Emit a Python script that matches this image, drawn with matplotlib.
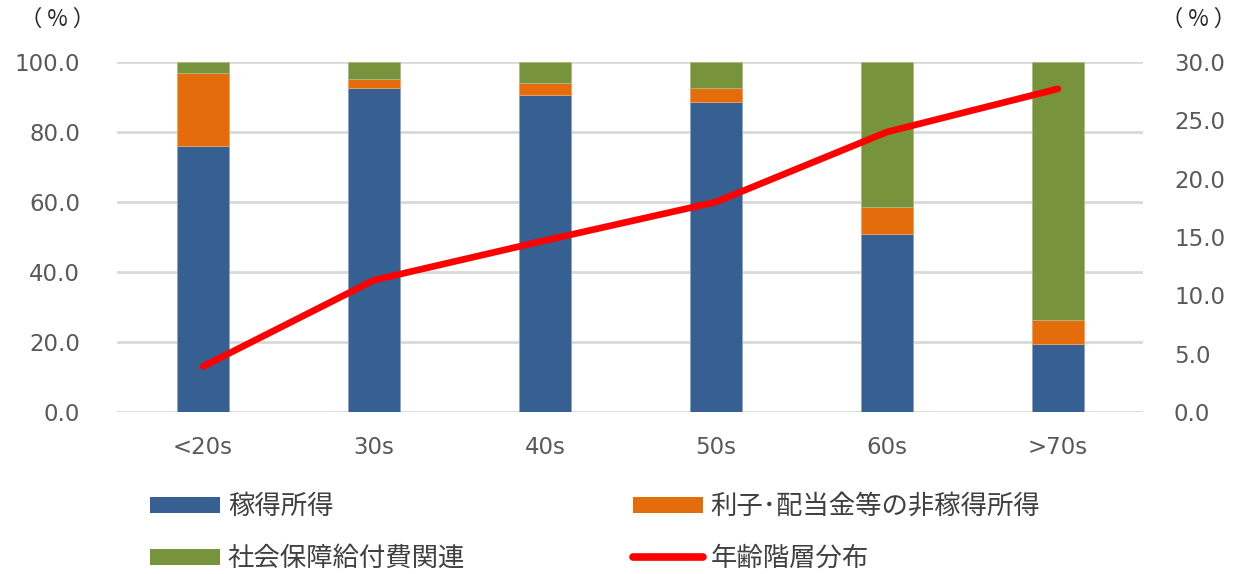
import matplotlib
matplotlib.use("Agg")
import matplotlib.pyplot as plt
import numpy as np
from matplotlib.patches import Patch
from matplotlib.lines import Line2D

plt.rcParams['font.family'] = ['DejaVu Sans', 'Noto Sans CJK JP']

categories = ["<20s", "30s", "40s", "50s", "60s", ">70s"]
earned_income = [76.1, 92.5, 90.7, 88.7, 50.9, 19.3]
non_earned_income = [20.8, 2.6, 3.2, 3.8, 7.6, 7.1]
social_security = [3.1, 4.9, 6.1, 7.5, 41.5, 73.6]
age_distribution = [3.9, 11.3, 14.7, 18.0, 24.0, 27.7]

left_ticks = [0, 20, 40, 60, 80, 100]
right_ticks = [0, 5, 10, 15, 20, 25, 30]

labels = ["稼得所得", "利子･配当金等の非稼得所得", "社会保障給付費関連", "年齢階層分布"]
colors = ["#366092", "#E46C0A", "#77933C", "#FF0000"]
tick_color = "#595959"

fig = plt.figure(figsize=(12.42, 5.74), dpi=100)
ax = fig.add_axes([0.0946, 0.2822, 0.826, 0.6098])
x = np.arange(len(categories))
w = 0.30

b1 = np.array(earned_income)
b2 = np.array(non_earned_income)
b3 = np.array(social_security)
ax.bar(x, b1, w, color=colors[0], edgecolor="#8DA3C0", linewidth=0.6, zorder=2)
ax.bar(x, b2, w, bottom=b1, color=colors[1], edgecolor="#F0A060", linewidth=0.6, zorder=2)
ax.bar(x, b3, w, bottom=b1 + b2, color=colors[2], edgecolor="#A8BC80", linewidth=0.6, zorder=2)

ax.set_xlim(-0.5, len(categories) - 0.5)
ax.set_ylim(0, 100)
ax.set_yticks(left_ticks)
ax.set_yticklabels([f"{v:.1f}" for v in left_ticks])
ax.set_xticks(x)
ax.set_xticklabels(categories)
ax.yaxis.grid(True, color="#D9D9D9", linewidth=2.0, zorder=0)
ax.set_axisbelow(True)
for s in ax.spines.values():
    s.set_visible(False)
ax.tick_params(axis="both", length=0, labelsize=16.5, colors=tick_color)
ax.tick_params(axis="y", pad=27)
ax.tick_params(axis="x", pad=17)

ax2 = ax.twinx()
ax2.plot(x, age_distribution, color=colors[3], linewidth=4.8, solid_capstyle="round",
         solid_joinstyle="round", zorder=5)
ax2.set_ylim(0, 30)
ax2.set_yticks(right_ticks)
ax2.set_yticklabels([f"{v:.1f}" for v in right_ticks])
for s in ax2.spines.values():
    s.set_visible(False)
ax2.tick_params(axis="y", length=0, labelsize=16.5, colors=tick_color, pad=22)

pct_font = ["Noto Sans CJK JP", "DejaVu Sans"]
fig.text(0.0465, 0.966, "（ % ）", fontsize=16, color="#262626", ha="center", va="center",
         family=pct_font)
fig.text(0.965, 0.966, "（ % ）", fontsize=16, color="#262626", ha="center", va="center",
         family=pct_font)

handles = [
    Patch(facecolor=colors[0], edgecolor="none"),
    Patch(facecolor=colors[2], edgecolor="none"),
    Patch(facecolor=colors[1], edgecolor="none"),
    Line2D([0], [0], color=colors[3], linewidth=5.5, solid_capstyle="round"),
]
hl = [labels[0], labels[2], labels[1], labels[3]]
leg = fig.legend(handles, hl, ncol=2, loc="upper left", bbox_to_anchor=(150 / 1242, 1 - 493 / 574),
                 frameon=False, prop={"family": ["Noto Sans CJK JP"], "size": 19},
                 handlelength=2.65, handleheight=0.57, handletextpad=0.3,
                 columnspacing=6.35, labelspacing=0.95, borderpad=0, borderaxespad=0)
for t in leg.get_texts():
    t.set_color("#404040")

fig.savefig("out.png", dpi=100)
